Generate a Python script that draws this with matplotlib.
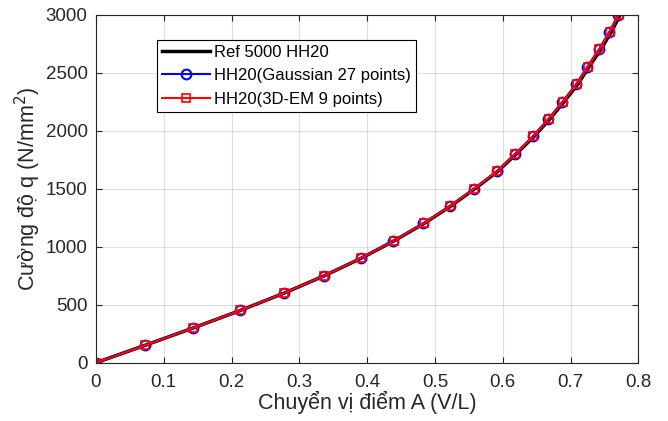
import matplotlib.pyplot as plt

plt.rcParams['font.family'] = ['Liberation Sans', 'DejaVu Sans']

# applied load q (N/mm^2)
q = [0, 150, 300, 450, 600, 750, 900, 1050, 1200, 1350, 1500,
     1650, 1800, 1950, 2100, 2250, 2400, 2550, 2700, 2850, 3000]

# displacement of point A (V/L)
u_gauss = [0, 0.0723, 0.1435, 0.2124, 0.2773, 0.3363, 0.3904, 0.4386, 0.4828,
           0.5220, 0.5575, 0.5910, 0.6180, 0.6440, 0.6670, 0.6880, 0.7080,
           0.7245, 0.7416, 0.7570, 0.7700]
u_em = [0, 0.0725, 0.1437, 0.2126, 0.2775, 0.3366, 0.3907, 0.4390, 0.4832,
        0.5225, 0.5580, 0.5915, 0.6186, 0.6447, 0.6677, 0.6887, 0.7087,
        0.7252, 0.7423, 0.7577, 0.7707]
u_ref = [0, 0.0725, 0.1438, 0.2128, 0.2778, 0.3370, 0.3912, 0.4396, 0.4840,
         0.5234, 0.5591, 0.5928, 0.6200, 0.6462, 0.6694, 0.6906, 0.7107,
         0.7273, 0.7446, 0.7601, 0.7732]

fig = plt.figure(figsize=(6.68, 4.21), dpi=100)
ax = fig.add_axes([0.1437, 0.1385, 0.812, 0.827])

ax.plot(u_ref, q, color='k', linewidth=2.5, label='Ref 5000 HH20')
ax.plot(u_gauss, q, color='b', linewidth=1.5, marker='o', markersize=7,
        markerfacecolor='none', markeredgewidth=1.5,
        label='HH20(Gaussian 27 points)')
ax.plot(u_em, q, color='r', linewidth=1.5, marker='s', markersize=5.5,
        markerfacecolor='none', markeredgewidth=1.2,
        label='HH20(3D-EM 9 points)')

ax.set_xlim(0, 0.8)
ax.set_ylim(0, 3000)
ax.set_xticks([0, 0.1, 0.2, 0.3, 0.4, 0.5, 0.6, 0.7, 0.8])
ax.set_xticklabels(['0', '0.1', '0.2', '0.3', '0.4', '0.5', '0.6', '0.7', '0.8'])
ax.set_yticks(range(0, 3001, 500))

ax.grid(True, color='0.15', alpha=0.15, linewidth=0.8)
ax.tick_params(direction='in', labelsize=13.5, colors='0.15', length=4,
               top=True, right=True, labelcolor='0.15')
ax.tick_params(axis='x', pad=8)
ax.tick_params(axis='y', pad=6)
for s in ax.spines.values():
    s.set_color('0.15')
    s.set_linewidth(0.8)

ax.set_xlabel('Chuyển vị điểm A (V/L)', fontsize=15.5, color='0.15', labelpad=0)
ax.set_ylabel('Cường độ q (N/mm$^2$)', fontsize=15.5, color='0.15', labelpad=2)

leg = ax.legend(loc='upper left', bbox_to_anchor=(0.112, 0.927), fontsize=12,
                frameon=True, fancybox=False, edgecolor='k', framealpha=1,
                handlelength=2.9, handletextpad=0.25, borderpad=0.3,
                labelspacing=0.5, borderaxespad=0)
leg.get_frame().set_linewidth(0.8)

fig.savefig('out.png', dpi=100)
